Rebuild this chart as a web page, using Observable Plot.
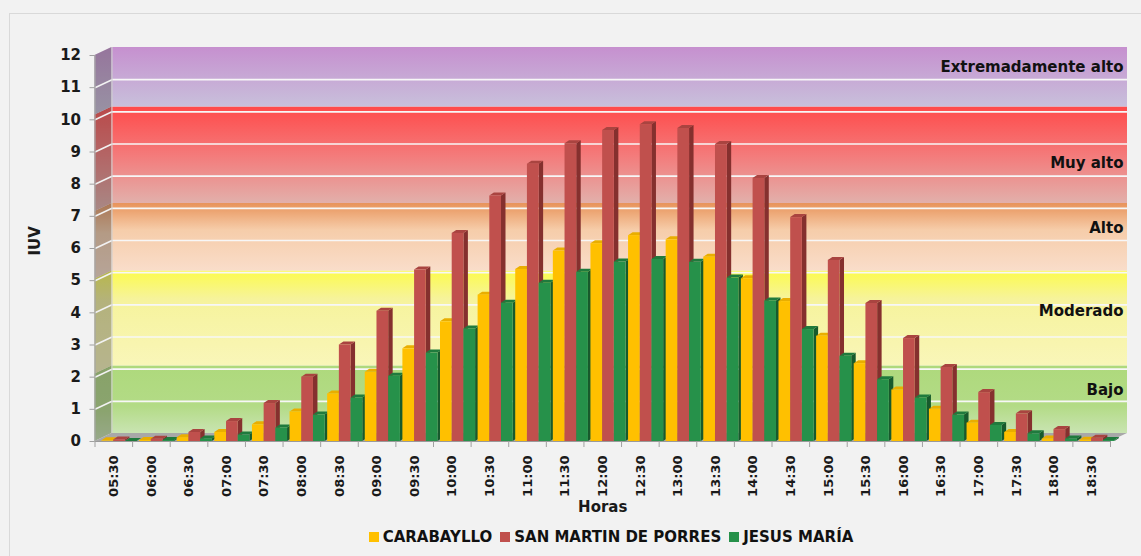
<!DOCTYPE html>
<html><head><meta charset="utf-8">
<script src="https://cdn.jsdelivr.net/npm/d3@7"></script>
<script src="https://cdn.jsdelivr.net/npm/@observablehq/plot@0.6"></script>
<style>
html,body{margin:0;padding:0;background:#f2f2f2;}
#wrap{position:relative;width:1141px;height:556px;overflow:hidden;background:#f2f2f2;font-family:"DejaVu Sans",sans-serif;}
#frame{position:absolute;left:9px;top:13px;width:1200px;height:600px;border-left:1px solid #d9d9d9;border-top:1px solid #d9d9d9;box-sizing:border-box;}
#chart{position:absolute;left:0;top:0;}
#legend{position:absolute;left:0;top:528px;width:1141px;padding-left:81px;box-sizing:border-box;display:flex;justify-content:center;align-items:center;gap:8px;font-weight:bold;font-size:15px;color:#111;}
.item{display:flex;align-items:center;gap:4px;}
.sw{width:10px;height:10px;display:inline-block;}
</style></head><body>
<div id="wrap"><div id="frame"></div><div id="chart"></div><div id="legend"></div></div>
<script>
// ---- data ----
const times = ["05:30","06:00","06:30","07:00","07:30","08:00","08:30","09:00","09:30","10:00","10:30","11:00","11:30","12:00","12:30","13:00","13:30","14:00","14:30","15:00","15:30","16:00","16:30","17:00","17:30","18:00","18:30"];
const carabayllo = [0.02,0.03,0.12,0.28,0.52,0.92,1.48,2.15,2.88,3.72,4.55,5.35,5.92,6.15,6.40,6.27,5.73,5.06,4.35,3.27,2.42,1.60,1.00,0.57,0.28,0.08,0.04];
const sanMartin = [0.05,0.07,0.28,0.62,1.18,2.00,3.00,4.05,5.33,6.47,7.63,8.62,9.26,9.67,9.85,9.73,9.23,8.18,6.96,5.63,4.29,3.20,2.30,1.52,0.86,0.37,0.10];
const jesusMaria = [0.00,0.03,0.08,0.20,0.42,0.82,1.35,2.03,2.75,3.50,4.30,4.92,5.26,5.58,5.66,5.57,5.08,4.37,3.48,2.65,1.92,1.35,0.82,0.50,0.24,0.08,0.03];
const seriesNames = ["CARABAYLLO","SAN MARTIN DE PORRES","JESUS MARÍA"];
const bandNames = ["Bajo","Moderado","Alto","Muy alto","Extremadamente alto"];
const bandFrom = [0, 2.1, 5.05, 7.15, 10.15];
const bandTo = [2.1, 5.05, 7.15, 10.15, 12];
const bandLabelY = [1.59, 4.04, 6.62, 8.64, 11.63];
const yTicks = [0,1,2,3,4,5,6,7,8,9,10,11,12];

// ---- styles ----
const seriesColors = ["#ffc000","#c0504d","#26914a"];
const seriesTopColors = ["#e9ae00","#a94440","#1f7a3d"];
const seriesSideColors = ["#c49300","#85302e","#175a2c"];
const bandStops = [
  [[0,"#aed97c"],[0.6,"#b3db86"],[1,"#c9e4b2"]],
  [[0,"#fcfb4c"],[0.3,"#f6f39c"],[1,"#f9f6b9"]],
  [[0,"#e8935a"],[0.4,"#f6cdaa"],[1,"#f9ddca"]],
  [[0,"#ff4a4a"],[0.5,"#f47a7a"],[1,"#e2b0ab"]],
  [[0,"#c690cf"],[1,"#c8c0db"]]
];

// ---- geometry (pixels -> data units) ----
const N = times.length;
const W = 1141, H = 520, mL = 94.5, mR = 31, mT = 55, mB = 79;
const pxX = (W - mL - mR) / N;
const pxY = (H - mT - mB) / 12;
const DX = 17 / pxX, DY = 8 / pxY;
const BAR_OFF = 7 / pxX, BAR_W = 11.7 / pxX, SIDE_X = 4.5 / pxX, SIDE_Y = 3 / pxY;

const series = [carabayllo, sanMartin, jesusMaria];
const bars = [];
series.forEach((vals, k) => vals.forEach((v, i) => {
  const x1 = i + BAR_OFF + k * BAR_W;
  bars.push({id: k * 100 + i, k, v, x1, x2: x1 + BAR_W});
}));
const sidePts = bars.flatMap(b => [
  {id: b.id, k: b.k, x: b.x2, y1: 0, y2: b.v},
  {id: b.id, k: b.k, x: b.x2 + SIDE_X, y1: SIDE_Y, y2: b.v + SIDE_Y}
]);
const topPts = bars.flatMap(b => [
  {id: b.id, k: b.k, y: b.v, x1: b.x1, x2: b.x2},
  {id: b.id, k: b.k, y: b.v + SIDE_Y, x1: b.x1 + SIDE_X, x2: b.x2 + SIDE_X}
]);
const bands = bandNames.map((name, k) => ({k, name, from: bandFrom[k], to: bandTo[k], ly: bandLabelY[k]}));
const wallPts = bands.flatMap(b => [
  {k: b.k, x: 0, y1: b.from, y2: b.to},
  {k: b.k, x: DX, y1: b.from + DY, y2: b.to + DY}
]);
const floorPts = [{y: 0, x1: 0, x2: N}, {y: DY, x1: DX, x2: N + DX}];
const grid = yTicks.filter(v => v > 0 && v < 12);

const font = "DejaVu Sans";
const plot = Plot.plot({
  width: W, height: H,
  marginLeft: mL, marginRight: mR, marginTop: mT, marginBottom: mB,
  style: {background: "transparent", fontFamily: font, overflow: "visible"},
  x: {domain: [0, N]},
  y: {domain: [0, 12]},
  color: {type: "identity"},
  marks: [
    // back wall
    Plot.rect(bands, {x1: 0, x2: N, y1: "from", y2: "to", dx: 17, dy: -8, fill: d => `url(#band${d.k})`}),
    Plot.ruleY(grid, {x1: 0, x2: N, dx: 17, dy: -8, stroke: "#f7f7f7", strokeWidth: 1.6}),
    // left wall
    Plot.areaY(wallPts, {x: "x", y1: "y1", y2: "y2", z: "k", fill: d => `url(#band${d.k})`, curve: "linear"}),
    Plot.areaY(wallPts, {x: "x", y1: "y1", y2: "y2", z: "k", fill: "#4a4a4a", fillOpacity: 0.38, curve: "linear"}),
    Plot.link(grid, {x1: 0, y1: d => d, x2: DX, y2: d => d + DY, stroke: "#f2f2f2", strokeWidth: 1.6}),
    Plot.ruleX([DX], {y1: DY, y2: 12 + DY, stroke: "#d0d0d0", strokeWidth: 1}),
    // floor
    Plot.areaX(floorPts, {y: "y", x1: "x1", x2: "x2", fill: "#a8a8a8", curve: "linear"}),
    Plot.ruleX([0], {y1: 0, y2: 12, stroke: "#a6a6a6", strokeWidth: 1.2}),
    Plot.ruleY([0], {x1: 0, x2: N, stroke: "#9a9a9a", strokeWidth: 1.2}),
    // bars
    Plot.areaY(sidePts, {x: "x", y1: "y1", y2: "y2", z: "id", fill: d => seriesSideColors[d.k], curve: "linear"}),
    Plot.areaX(topPts, {y: "y", x1: "x1", x2: "x2", z: "id", fill: d => seriesTopColors[d.k], curve: "linear"}),
    Plot.rect(bars, {x1: "x1", x2: "x2", y1: 0, y2: "v", fill: d => seriesColors[d.k]}),
    // band labels
    Plot.text(bands, {x: N, y: "ly", text: "name", textAnchor: "end", dx: 13, fontSize: 15, fontWeight: "bold", fill: "#111"}),
    // axes
    Plot.axisY({ticks: yTicks, tickSize: 5, tickPadding: 9, stroke: "#a0a0a0", fill: "#1a1a1a", fontSize: 15, fontWeight: "bold", label: null}),
    Plot.axisX({ticks: d3.range(N + 1), tickSize: 6, tickFormat: () => "", stroke: "#a0a0a0", label: null}),
    Plot.axisX({ticks: d3.range(N).map(i => i + 0.5), tickFormat: d => times[Math.floor(d)], tickSize: 0, tickPadding: 14, tickRotate: -90, fill: "#1a1a1a", fontSize: 13, fontWeight: "bold", label: null}),
    Plot.text(["IUV"], {text: d => d, frameAnchor: "left", dx: -60, dy: 7, rotate: -90, fontSize: 15, fontWeight: "bold", fill: "#1a1a1a"}),
    Plot.text(["Horas"], {text: d => d, frameAnchor: "bottom", dy: 70, fontSize: 15, fontWeight: "bold", fill: "#1a1a1a"})
  ]
});

// gradients
const NS = "http://www.w3.org/2000/svg";
const defs = document.createElementNS(NS, "defs");
bandStops.forEach((stops, k) => {
  const g = document.createElementNS(NS, "linearGradient");
  g.setAttribute("id", `band${k}`);
  g.setAttribute("x1", "0"); g.setAttribute("y1", "0"); g.setAttribute("x2", "0"); g.setAttribute("y2", "1");
  stops.forEach(([o, c]) => {
    const s = document.createElementNS(NS, "stop");
    s.setAttribute("offset", o); s.setAttribute("stop-color", c);
    g.appendChild(s);
  });
  defs.appendChild(g);
});
plot.insertBefore(defs, plot.firstChild);
document.getElementById("chart").appendChild(plot);

// legend
const legend = document.getElementById("legend");
seriesNames.forEach((name, k) => {
  const item = document.createElement("div");
  item.className = "item";
  item.innerHTML = `<span class="sw" style="background:${seriesColors[k]}"></span><span>${name}</span>`;
  legend.appendChild(item);
});
</script></body></html>
